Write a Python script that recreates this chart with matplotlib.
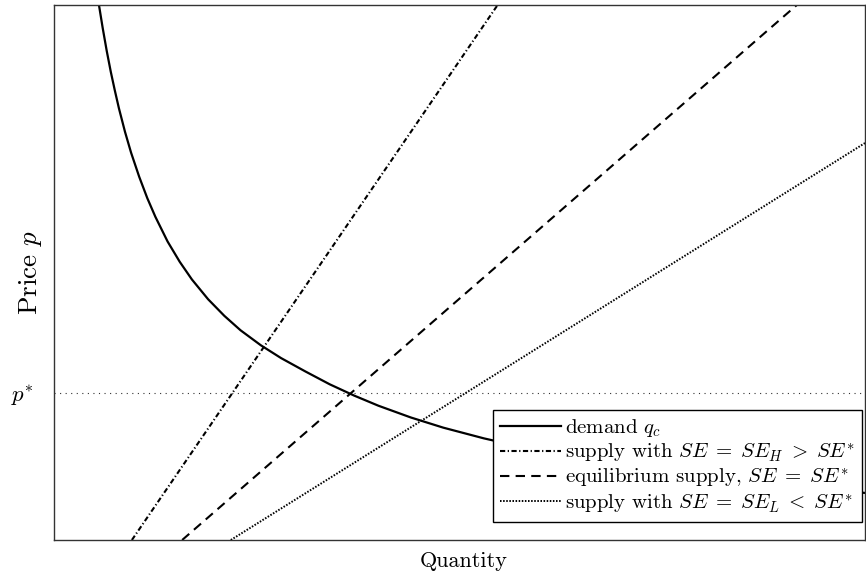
import matplotlib.pyplot as plt

plt.rcParams["font.family"] = "cmr10"
plt.rcParams["mathtext.fontset"] = "cm"
plt.rcParams["axes.formatter.use_mathtext"] = True

# demand curve q_c (quantity, price)
demand_q = [0.554, 0.60, 0.65, 0.70, 0.75, 0.80, 0.875, 0.95, 1.05, 1.15, 1.25,
            1.40, 1.55, 1.70, 1.90, 2.10, 2.30, 2.55, 2.80, 3.10, 3.40, 3.70,
            4.00, 4.40, 4.80, 5.30, 6.00, 7.00, 8.00, 9.00, 10.00]
demand_p = [10.00, 9.57, 9.14, 8.75, 8.40, 8.07, 7.63, 7.24, 6.79, 6.39, 6.04,
            5.58, 5.20, 4.87, 4.50, 4.19, 3.92, 3.64, 3.40, 3.15, 2.91, 2.70,
            2.51, 2.29, 2.10, 1.90, 1.66, 1.39, 1.19, 1.02, 0.88]

# supply lines, given by their end points
supply_high_q = [0.96, 5.47]
supply_high_p = [0.0, 10.0]
supply_eq_q = [1.58, 9.16]
supply_eq_p = [0.0, 10.0]
supply_low_q = [2.18, 10.0]
supply_low_p = [0.0, 7.42]

p_star = 2.75

fig = plt.figure(figsize=(8.66, 5.76), dpi=100)
ax = fig.add_axes([0.0624, 0.0625, 0.9364, 0.9288])

ax.axhline(p_star, color="#333333", lw=0.8, linestyle=(0, (1, 4)))
ax.plot(demand_q, demand_p, color="black", lw=1.6, solid_joinstyle="round",
        label=r"demand $q_c$")
ax.plot(supply_high_q, supply_high_p, color="black", lw=1.5,
        linestyle=(0, (2.5, 1.2, 0.6, 1.2)),
        label=r"supply with $SE\;=\;SE_H\;>\;SE^{*}$")
ax.plot(supply_eq_q, supply_eq_p, color="black", lw=1.5,
        linestyle=(0, (4.5, 3)),
        label=r"equilibrium supply, $SE\;=\;SE^{*}$")
ax.plot(supply_low_q, supply_low_p, color="black", lw=1.4,
        linestyle=(0, (0.8, 0.8)),
        label=r"supply with $SE\;=\;SE_L\;<\;SE^{*}$")

ax.set_xlim(0, 10)
ax.set_ylim(0, 10)
ax.set_xticks([])
ax.set_yticks([p_star])
ax.set_yticklabels([r"$p^{*}$"], fontsize=16.5)
ax.tick_params(axis="y", length=0, pad=15)
ax.set_xlabel("Quantity", fontsize=16, labelpad=6)
ax.xaxis.set_label_coords(0.505, -0.022)
ax.set_ylabel(r"Price $p$", fontsize=19.5)
ax.yaxis.set_label_coords(-0.0125, 0.5)

for s in ax.spines.values():
    s.set_color("#333333")
    s.set_linewidth(1.0)

leg = ax.legend(loc="lower right", bbox_to_anchor=(0.996, 0.034), borderaxespad=0,
                fontsize=15, handlelength=2.95, handletextpad=0.15, labelspacing=0.1,
                borderpad=0.35, fancybox=False, framealpha=1, edgecolor="black")
leg.get_frame().set_linewidth(1.0)

fig.savefig("out.png", dpi=100)
